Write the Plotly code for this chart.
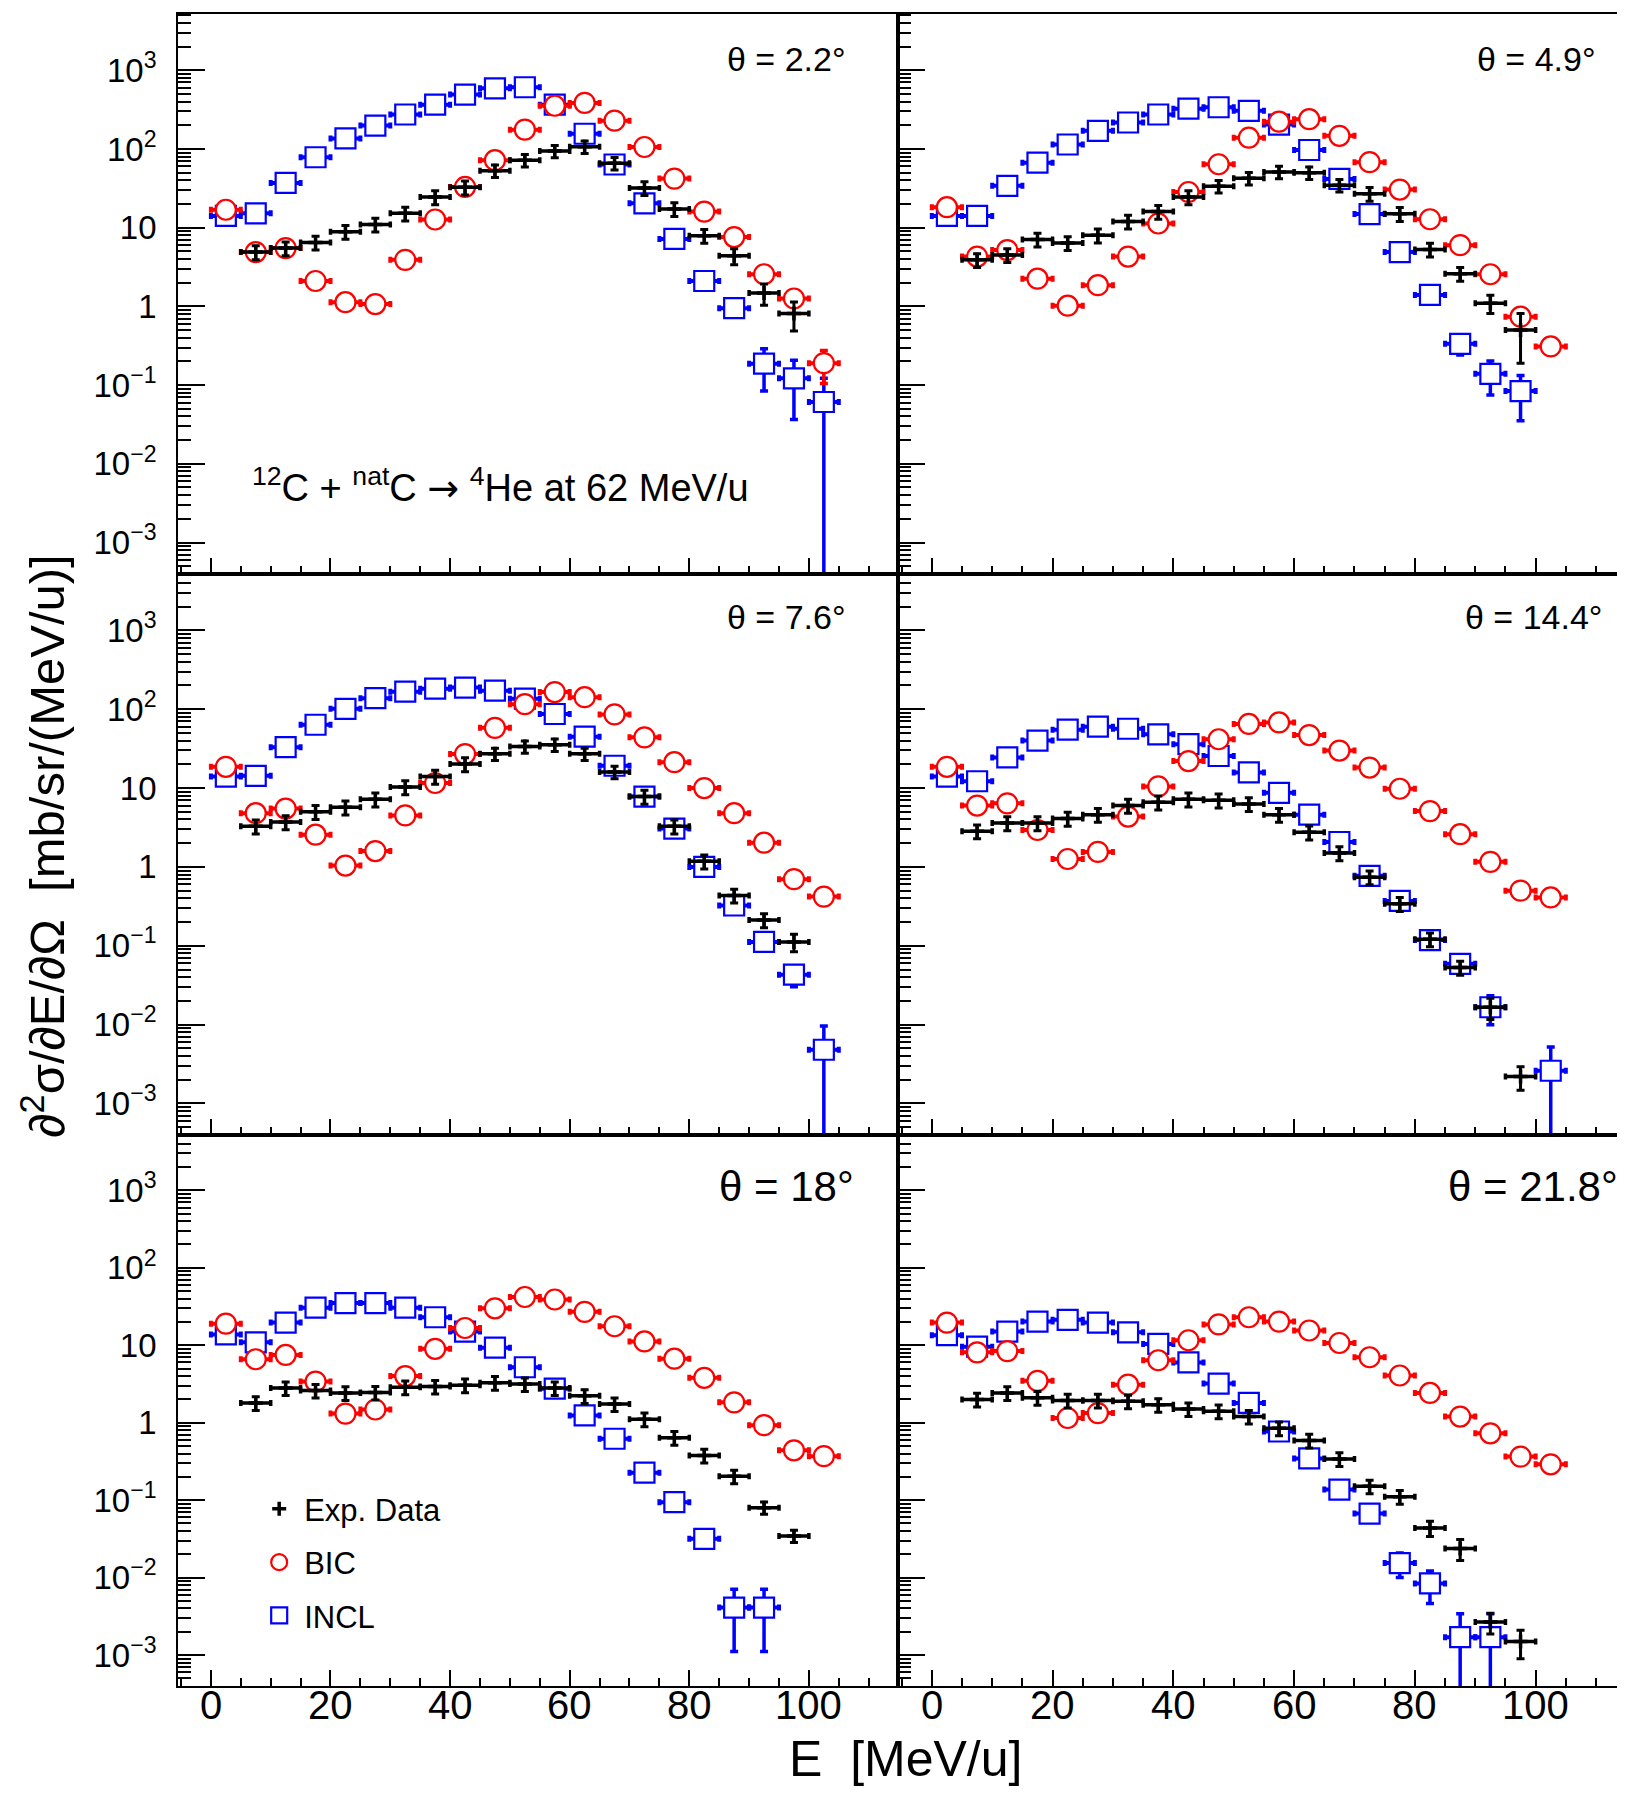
import plotly.graph_objects as go
from plotly.subplots import make_subplots

# ---------------- data ----------------
E = [2.5, 7.5, 12.5, 17.5, 22.5, 27.5, 32.5, 37.5, 42.5, 47.5, 52.5,
     57.5, 62.5, 67.5, 72.5, 77.5, 82.5, 87.5, 92.5, 97.5, 102.5]
E_HALF_BIN = 2.5

angles = ["θ = 2.2°", "θ = 4.9°", "θ = 7.6°", "θ = 14.4°", "θ = 18°", "θ = 21.8°"]

# theta = 2.2
exp_22 = [None, 4.9, 5.5, 6.5, 8.9, 11.0, 15.2, 24.5, 32.6, 53, 72, 94, 107, 66, 32, 17.3, 7.9, 4.4, 1.48, 0.81, None]
exp_22_rerr = [0, .2, .2, .2, .2, .2, .2, .2, .2, .18, .18, .18, .18, .18, .2, .2, .2, .23, .3, .4, 0]
bic_22 = [16.9, 4.9, 5.5, 2.1, 1.13, 1.07, 3.9, 12.7, 32.9, 72, 176, 354, 385, 229, 106, 42, 16, 7.6, 2.56, 1.26, 0.19]
bic_22_rerr = [.03, .03, .03, .03, .03, .03, .03, .03, .03, .03, .03, .03, .03, .03, .03, .03, .03, .03, .03, .1, .45]
incl_22 = [14.1, 15.2, 37, 78.5, 136, 198, 274, 365, 491, 589, 608, 365, 156, 63.5, 20.4, 7.2, 2.1, 0.95, 0.187, 0.122, 0.061]
incl_22_rerr = [.03, .03, .03, .03, .03, .03, .03, .03, .03, .03, .03, .03, .03, .03, .03, .03, .05, .15, .55, .7, 1.0]

# theta = 4.9
exp_49 = [None, 3.9, 4.5, 7.1, 6.4, 8.0, 12.0, 16, 24.5, 33.6, 42.5, 51, 50, 34.7, 27, 15, 5.3, 2.6, 1.1, 0.5, None]
exp_49_rerr = [0, .2, .2, .2, .2, .2, .2, .2, .2, .18, .18, .18, .18, .18, .2, .2, .2, .2, .26, .62, 0]
bic_49 = [18.2, 4.3, 5.2, 2.25, 1.02, 1.86, 4.3, 11.3, 28.4, 64, 139, 222, 239, 147, 68, 30.5, 12.8, 6.0, 2.56, 0.74, 0.31]
bic_49_rerr = [.03, .03, .03, .03, .03, .03, .03, .03, .03, .03, .03, .03, .03, .03, .03, .03, .03, .03, .03, .05, .15]
incl_49 = [14.1, 14.1, 34, 67, 114, 170, 217, 274, 325, 339, 305, 204, 97, 41.6, 14.9, 4.9, 1.40, 0.334, 0.139, 0.084, None]
incl_49_rerr = [.03, .03, .03, .03, .03, .03, .03, .03, .03, .03, .03, .03, .03, .03, .03, .03, .05, .28, .46, .58, 0]

# theta = 7.6
exp_76 = [None, 3.27, 3.7, 5.0, 5.7, 7.2, 10.3, 14, 20.2, 27.2, 33.6, 35.5, 27.2, 16, 7.8, 3.27, 1.18, 0.435, 0.212, 0.112, None]
exp_76_rerr = [0, .2, .2, .2, .2, .2, .2, .2, .2, .18, .18, .18, .18, .18, .2, .2, .2, .2, .2, .25, 0]
bic_76 = [18.6, 4.8, 5.5, 2.56, 1.04, 1.59, 4.5, 11.6, 27, 58, 116, 165, 142, 86, 44, 21.3, 10, 4.8, 2.03, 0.70, 0.42]
bic_76_rerr = [.03] * 21
incl_76 = [14, 14.3, 33, 63.5, 101, 138, 167, 182, 188, 172, 136, 87, 44.8, 19.2, 7.8, 3.06, 1.0, 0.324, 0.112, 0.043, 0.0048]
incl_76_rerr = [.03, .03, .03, .03, .03, .03, .03, .03, .03, .03, .03, .03, .03, .03, .03, .03, .03, .05, .08, .3, 1.0]

# theta = 14.4
exp_144 = [None, 2.84, 3.6, 3.6, 4.1, 4.6, 6.0, 6.6, 7.2, 7.0, 6.3, 4.6, 2.75, 1.5, 0.74, 0.34, 0.121, 0.053, 0.0166, 0.0022, None]
exp_144_rerr = [0, .2, .2, .2, .2, .2, .2, .2, .2, .2, .2, .2, .2, .2, .2, .2, .2, .2, .3, .33, 0]
bic_144 = [18.6, 6.0, 6.4, 2.94, 1.26, 1.55, 4.35, 10.5, 22, 41.6, 65, 68, 47, 29.9, 18.2, 9.8, 5.1, 2.6, 1.16, 0.50, 0.41]
bic_144_rerr = [.03] * 21
incl_144 = [14, 12.2, 24.5, 40, 55, 60, 56.5, 48, 36, 25.5, 15.8, 8.7, 4.6, 2.07, 0.77, 0.37, 0.118, 0.059, 0.0166, None, 0.0026]
incl_144_rerr = [.03, .03, .03, .03, .03, .03, .03, .03, .03, .03, .03, .03, .03, .03, .03, .03, .05, .08, .4, 0, 1.0]

# theta = 18
exp_18 = [None, 1.8, 2.8, 2.6, 2.42, 2.45, 2.87, 2.93, 3.05, 3.29, 3.15, 2.8, 2.22, 1.74, 1.11, 0.64, 0.377, 0.203, 0.080, 0.0345, None]
exp_18_rerr = [0, .2, .2, .2, .2, .2, .2, .2, .2, .2, .2, .2, .2, .2, .2, .2, .2, .2, .18, .18, 0]
bic_18 = [19, 6.6, 7.5, 3.4, 1.31, 1.48, 4.0, 9.0, 16.7, 30, 42, 39, 27, 17.6, 11.2, 6.7, 3.8, 1.83, 0.93, 0.44, 0.37]
bic_18_rerr = [.03] * 21
incl_18 = [13.8, 10.9, 19.6, 30.6, 35, 35, 30.6, 23, 15, 9.3, 5.2, 2.75, 1.24, 0.62, 0.226, 0.094, 0.0317, 0.0041, 0.0041, None, None]
incl_18_rerr = [.03, .03, .03, .03, .03, .03, .03, .03, .03, .03, .03, .03, .03, .03, .03, .03, .1, .73, .73, 0, 0]

# theta = 21.8
exp_218 = [None, 2.0, 2.42, 2.1, 1.94, 1.94, 1.89, 1.70, 1.5, 1.41, 1.2, 0.85, 0.59, 0.34, 0.151, 0.111, 0.0436, 0.0238, 0.00266, 0.00149, None]
exp_218_rerr = [0, .2, .2, .2, .2, .2, .2, .2, .2, .2, .2, .2, .2, .2, .2, .2, .22, .3, .3, .4, 0]
bic_218 = [19.6, 8.1, 8.4, 3.47, 1.15, 1.33, 3.1, 6.4, 11.6, 18.6, 23, 20.2, 15.5, 10.7, 7.0, 4.07, 2.42, 1.2, 0.73, 0.365, 0.29]
bic_218_rerr = [.03] * 21
incl_218 = [13.5, 9.6, 15, 20.2, 21.3, 19.6, 14.7, 10.4, 6.0, 3.2, 1.8, 0.77, 0.346, 0.137, 0.067, 0.0154, 0.0084, 0.0017, 0.0017, None, None]
incl_218_rerr = [.03, .03, .03, .03, .03, .03, .03, .03, .03, .03, .03, .03, .03, .03, .03, .35, .45, 1.0, 1.0, 0, 0]

y_tick_vals = [1e-3, 1e-2, 1e-1, 1, 10, 100, 1000]
y_tick_text = ["10<sup>−3</sup>", "10<sup>−2</sup>", "10<sup>−1</sup>", "1", "10", "10<sup>2</sup>", "10<sup>3</sup>"]
x_tick_vals = [0, 20, 40, 60, 80, 100]
x_tick_text = ["0", "20", "40", "60", "80", "100"]

panels = [
    (exp_22, exp_22_rerr, bic_22, bic_22_rerr, incl_22, incl_22_rerr),
    (exp_49, exp_49_rerr, bic_49, bic_49_rerr, incl_49, incl_49_rerr),
    (exp_76, exp_76_rerr, bic_76, bic_76_rerr, incl_76, incl_76_rerr),
    (exp_144, exp_144_rerr, bic_144, bic_144_rerr, incl_144, incl_144_rerr),
    (exp_18, exp_18_rerr, bic_18, bic_18_rerr, incl_18, incl_18_rerr),
    (exp_218, exp_218_rerr, bic_218, bic_218_rerr, incl_218, incl_218_rerr),
]

FONT = "Liberation Sans, Arial, Helvetica, sans-serif"
RED = "#ff0000"
BLUE = "#0000ff"


def abs_err(vals, rerr):
    return [(v * r if v is not None else 0) for v, r in zip(vals, rerr)]


fig = make_subplots(rows=3, cols=2, horizontal_spacing=0, vertical_spacing=0)

for i, (ex, exr, bi, bir, inc, incr) in enumerate(panels):
    row, col = i // 2 + 1, i % 2 + 1
    first = (i == 0)
    fig.add_trace(go.Scatter(
        x=E, y=inc, mode="markers", name="INCL", legendgroup="incl", legendrank=3,
        showlegend=first,
        marker=dict(symbol="square", size=20, color="white", line=dict(width=2.2, color=BLUE)),
        error_x=dict(type="constant", value=E_HALF_BIN, thickness=4, width=3, color=BLUE),
        error_y=dict(type="data", array=abs_err(inc, incr), thickness=3.5, width=4, color=BLUE),
    ), row=row, col=col)
    fig.add_trace(go.Scatter(
        x=E, y=bi, mode="markers", name="BIC", legendgroup="bic", legendrank=2,
        showlegend=first,
        marker=dict(symbol="circle", size=20, color="white", line=dict(width=2.2, color=RED)),
        error_x=dict(type="constant", value=E_HALF_BIN, thickness=4, width=3, color=RED),
        error_y=dict(type="data", array=abs_err(bi, bir), thickness=3.5, width=4, color=RED),
    ), row=row, col=col)
    fig.add_trace(go.Scatter(
        x=E, y=ex, mode="markers", name="Exp. Data", legendgroup="exp", legendrank=1,
        showlegend=first,
        marker=dict(symbol="cross-thin", size=10, color="black", line=dict(width=3.5, color="black")),
        error_x=dict(type="constant", value=E_HALF_BIN, thickness=3.5, width=3, color="black"),
        error_y=dict(type="data", array=abs_err(ex, exr), thickness=3, width=4, color="black"),
    ), row=row, col=col)

x_dom = [[0.10462, 0.54769], [0.54769, 0.99508]]
y_dom = [[0.68556, 0.99667], [0.37389, 0.68556], [0.06778, 0.37389]]
x_ranges = [[-5.5, 114.9], [-5.6, 114.8]]

for i in range(6):
    row, col = i // 2, i % 2
    sfx = "" if i == 0 else str(i + 1)
    fig.layout["xaxis" + sfx].update(
        domain=x_dom[col], range=x_ranges[col], showgrid=False, zeroline=False,
        showline=True, linecolor="black", linewidth=1.8, mirror=True,
        tickmode="array", tickvals=x_tick_vals,
        ticks="inside", ticklen=16, tickwidth=2, tickcolor="black",
        minor=dict(ticks="inside", ticklen=8, tickwidth=2, tickcolor="black", dtick=5, tick0=0, showgrid=False),
        showticklabels=False,
    )
    fig.layout["yaxis" + sfx].update(
        domain=y_dom[row], type="log", range=[-3.40, 3.715], showgrid=False, zeroline=False,
        showline=True, linecolor="black", linewidth=1.8, mirror=True,
        tickmode="array", tickvals=y_tick_vals, ticktext=y_tick_text,
        ticks="inside", ticklen=27, tickwidth=2, tickcolor="black",
        minor=dict(ticks="inside", ticklen=13, tickwidth=2, tickcolor="black", dtick="D1", showgrid=False),
        showticklabels=(col == 0), ticklabelstandoff=13,
        tickfont=dict(family=FONT, size=33, color="black"),
    )

annotations = []
# x tick labels for the bottom row (drawn through the bottom axes' scales)
for ax_sfx in ["5", "6"]:
    for v, t in zip(x_tick_vals, x_tick_text):
        annotations.append(dict(
            text=t, xref="x" + ax_sfx, yref="y" + ax_sfx + " domain", x=v, y=-0.034,
            xanchor="center", yanchor="middle", showarrow=False,
            font=dict(family=FONT, size=40, color="black")))

title_pos = [(0.760, 0.92, 34), (0.794, 0.92, 34), (0.760, 0.923, 34),
             (0.777, 0.923, 34), (0.749, 0.906, 42), (0.754, 0.906, 42)]
for i, (tx, ty, fs) in enumerate(title_pos):
    sfx = "" if i == 0 else str(i + 1)
    annotations.append(dict(
        text=angles[i], xref="x" + sfx + " domain", yref="y" + sfx + " domain",
        x=tx, y=ty, xanchor="left", yanchor="middle", showarrow=False,
        font=dict(family=FONT, size=fs, color="black")))

annotations.append(dict(
    text="<sup>12</sup>C + <sup>nat</sup>C <span style=\"font-family:DejaVu Sans\">→</span> <sup>4</sup>He at 62 MeV/u",
    xref="x domain", yref="y domain", x=0.10, y=0.158, xanchor="left", yanchor="middle",
    showarrow=False, font=dict(family=FONT, size=38, color="black")))

annotations.append(dict(
    text="∂<sup>2</sup>σ/∂E/∂Ω  [mb/sr/(MeV/u)]", xref="paper", yref="paper",
    x=0.022, y=0.5345, xanchor="center", yanchor="middle", textangle=-90,
    showarrow=False, font=dict(family=FONT, size=49, color="black")))

annotations.append(dict(
    text="E  [MeV/u]", xref="paper", yref="paper",
    x=0.5526, y=0.027, xanchor="center", yanchor="middle",
    showarrow=False, font=dict(family=FONT, size=50, color="black")))

fig.update_layout(
    width=1625, height=1800,
    margin=dict(l=0, r=0, t=0, b=0),
    paper_bgcolor="white", plot_bgcolor="white",
    annotations=annotations,
    legend=dict(x=0.1515, y=0.181, xanchor="left", yanchor="top",
                font=dict(family=FONT, size=31, color="black"),
                bgcolor="rgba(0,0,0,0)", tracegroupgap=10, itemsizing="trace",
                itemwidth=40),
    font=dict(family=FONT),
)

fig.write_html("out.html")
